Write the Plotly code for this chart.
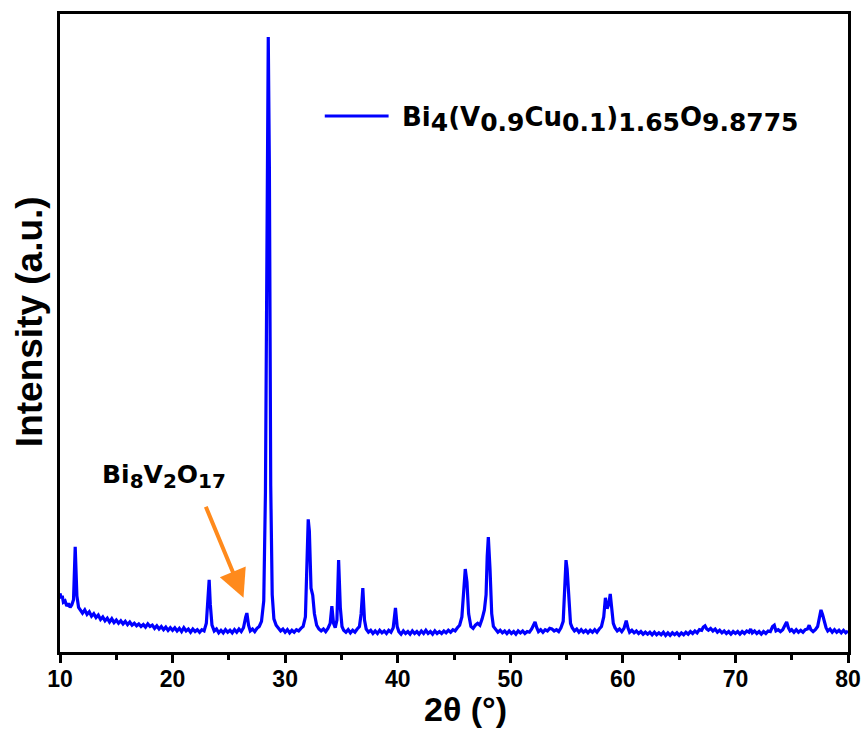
import plotly.graph_objects as go

# ---- data (2theta in degrees, intensity in arbitrary units) ----
two_theta = [
    10.0, 10.1, 10.2, 10.3, 10.45, 10.6, 10.75, 10.9, 11.05, 11.2,
    11.35, 11.5, 11.65, 11.8, 12.0, 12.2, 12.4, 12.6, 12.8, 13.0,
    13.2, 13.4, 13.6, 13.8, 14.0, 14.2, 14.4, 14.6, 14.8, 15.0,
    15.2, 15.4, 15.6, 15.8, 16.0, 16.2, 16.4, 16.6, 16.8, 17.0,
    17.2, 17.4, 17.6, 17.8, 18.0, 18.2, 18.4, 18.6, 18.8, 19.0,
    19.2, 19.4, 19.6, 19.8, 20.0, 20.2, 20.4, 20.6, 20.8, 21.0,
    21.2, 21.4, 21.6, 21.8, 22.0, 22.2, 22.4, 22.6, 22.8, 23.0,
    23.15, 23.25, 23.35, 23.5, 23.7, 23.9, 24.1, 24.3, 24.5, 24.7,
    24.9, 25.1, 25.3, 25.5, 25.7, 25.9, 26.1, 26.3, 26.5, 26.6,
    26.75, 26.9, 27.1, 27.3, 27.5, 27.7, 27.9, 28.1, 28.25, 28.4,
    28.5, 28.6, 28.72, 28.85, 29.0, 29.2, 29.4, 29.6, 29.8, 30.0,
    30.2, 30.4, 30.6, 30.8, 31.0, 31.2, 31.4, 31.6, 31.8, 31.95,
    32.05, 32.15, 32.3, 32.45, 32.6, 32.8, 33.0, 33.2, 33.4, 33.6,
    33.8, 34.0, 34.15, 34.3, 34.45, 34.6, 34.75, 34.9, 35.05, 35.2,
    35.4, 35.6, 35.8, 36.0, 36.2, 36.4, 36.6, 36.75, 36.9, 37.05,
    37.2, 37.4, 37.6, 37.8, 38.0, 38.2, 38.4, 38.6, 38.8, 39.0,
    39.2, 39.4, 39.6, 39.8, 39.95, 40.1, 40.3, 40.5, 40.7, 40.9,
    41.1, 41.3, 41.5, 41.7, 41.9, 42.1, 42.3, 42.5, 42.7, 42.9,
    43.1, 43.3, 43.5, 43.7, 43.9, 44.1, 44.3, 44.5, 44.7, 44.9,
    45.1, 45.3, 45.5, 45.7, 45.85, 46.0, 46.15, 46.3, 46.5, 46.7,
    46.9, 47.1, 47.3, 47.5, 47.7, 47.85, 47.95, 48.05, 48.2, 48.35,
    48.5, 48.7, 48.9, 49.1, 49.3, 49.5, 49.7, 49.9, 50.1, 50.3,
    50.5, 50.7, 50.9, 51.1, 51.3, 51.5, 51.7, 51.9, 52.05, 52.2,
    52.35, 52.5, 52.7, 52.9, 53.1, 53.3, 53.5, 53.7, 53.9, 54.1,
    54.3, 54.5, 54.7, 54.85, 54.95, 55.05, 55.2, 55.35, 55.5, 55.7,
    55.9, 56.1, 56.3, 56.5, 56.7, 56.9, 57.1, 57.3, 57.5, 57.7,
    57.9, 58.1, 58.3, 58.45, 58.6, 58.75, 58.88, 59.0, 59.15, 59.3,
    59.5, 59.7, 59.9, 60.1, 60.3, 60.45, 60.6, 60.8, 61.0, 61.2,
    61.4, 61.6, 61.8, 62.0, 62.2, 62.4, 62.6, 62.8, 63.0, 63.2,
    63.4, 63.6, 63.8, 64.0, 64.2, 64.4, 64.6, 64.8, 65.0, 65.2,
    65.4, 65.6, 65.8, 66.0, 66.2, 66.4, 66.6, 66.8, 67.0, 67.15,
    67.3, 67.45, 67.6, 67.8, 68.0, 68.2, 68.4, 68.6, 68.8, 69.0,
    69.2, 69.4, 69.6, 69.8, 70.0, 70.2, 70.4, 70.6, 70.8, 71.0,
    71.2, 71.35, 71.5, 71.7, 71.9, 72.1, 72.3, 72.5, 72.7, 72.9,
    73.1, 73.3, 73.45, 73.6, 73.8, 74.0, 74.2, 74.4, 74.55, 74.7,
    74.85, 75.0, 75.2, 75.4, 75.6, 75.8, 76.0, 76.2, 76.4, 76.55,
    76.7, 76.9, 77.1, 77.3, 77.45, 77.6, 77.75, 77.9, 78.05, 78.2,
    78.4, 78.6, 78.8, 79.0, 79.2, 79.4, 79.6, 79.8, 80.0,
]
intensity = [
    92, 84, 88, 78, 80, 72, 76, 70, 74, 82,
    165, 88, 70, 66, 61, 66, 59, 63, 56, 60,
    54, 58, 51, 55, 49, 53, 47, 52, 46, 50,
    45, 49, 44, 48, 43, 47, 42, 45, 41, 44,
    40, 43, 39, 44, 40, 42, 37, 41, 36, 40,
    35, 39, 34, 38, 34, 38, 33, 37, 32, 38,
    33, 36, 31, 36, 32, 35, 31, 35, 33, 45,
    80, 113, 75, 42, 33, 36, 30, 34, 30, 35,
    31, 34, 30, 35, 31, 36, 32, 38, 55, 61,
    42, 33, 36, 32, 37, 40, 48, 80, 250, 760,
    964, 760, 260, 90, 52, 42, 37, 33, 36, 31,
    35, 30, 34, 31, 35, 33, 37, 40, 55, 130,
    208, 190, 100, 89, 60, 42, 36, 33, 36, 32,
    37, 45, 72, 45, 38, 50, 144, 70, 40, 34,
    31, 35, 30, 34, 31, 36, 40, 60, 100, 50,
    36, 31, 34, 29, 33, 29, 34, 30, 33, 29,
    34, 31, 38, 69, 40, 32, 28, 33, 29, 32,
    28, 33, 29, 32, 28, 33, 29, 34, 29, 32,
    28, 33, 29, 32, 29, 33, 30, 34, 31, 35,
    33, 38, 42, 55, 100, 130, 110, 60, 40, 37,
    42, 45, 42, 52, 66, 90, 150, 180, 130, 60,
    40, 35, 31, 34, 30, 33, 29, 33, 29, 32,
    28, 33, 30, 33, 29, 32, 31, 36, 42, 47,
    38, 32, 35, 31, 35, 33, 37, 36, 33, 35,
    32, 38, 48, 100, 144, 130, 80, 45, 38, 33,
    36, 31, 35, 31, 34, 30, 34, 31, 35, 31,
    36, 40, 55, 85, 68, 75, 91, 70, 45, 38,
    33, 36, 32, 37, 49, 38, 31, 34, 30, 33,
    29, 32, 28, 31, 28, 31, 27, 31, 27, 30,
    27, 31, 26, 30, 26, 30, 27, 30, 26, 30,
    27, 31, 28, 32, 29, 33, 30, 35, 34, 39,
    41, 36, 34, 37, 33, 36, 31, 34, 30, 33,
    29, 32, 28, 32, 29, 32, 28, 32, 29, 33,
    31, 36, 30, 33, 29, 32, 28, 32, 29, 33,
    32, 40, 42, 33, 35, 32, 35, 42, 47, 38,
    33, 35, 31, 35, 31, 34, 31, 35, 36, 42,
    35, 32, 35, 40, 55, 66, 58, 45, 38, 33,
    36, 31, 35, 31, 34, 30, 34, 30, 33,
]
x_ticks = [10, 20, 30, 40, 50, 60, 70, 80]
x_title = "2θ (°)"
y_title = "Intensity (a.u.)"
impurity_peak = (26.3, 85)
impurity_arrow_tail = (22.9, 230)
impurity_label_pos = (19.24, 275)

BLUE = "#0000FF"
ORANGE = "#FF8A1C"
FONT = "Liberation Sans, Arial, sans-serif"
WIDEFONT = "DejaVu Sans, Liberation Sans, sans-serif"


def sub(s, size):
    return f"<sub><span style='font-size:{size}px'>{s}</span></sub>"


series_name = ("Bi" + sub("4", 25) + "(V" + sub("0.9", 25) + "Cu" + sub("0.1", 25) + ")"
               + sub("1.65", 25) + "O" + sub("9.8775", 25))
impurity_label = "Bi" + sub("8", 20) + "V" + sub("2", 20) + "O" + sub("17", 20)

fig = go.Figure()
fig.add_trace(go.Scatter(
    x=two_theta, y=intensity, mode="lines", name=series_name,
    line=dict(color=BLUE, width=3.2), showlegend=False,
))

fig.update_layout(
    width=865, height=734,
    margin=dict(l=60, r=17, t=14, b=82),
    paper_bgcolor="white", plot_bgcolor="white",
    xaxis=dict(
        range=[10, 80], tickvals=x_ticks, ticktext=[str(v) for v in x_ticks],
        showgrid=False, zeroline=False, automargin=False,
        showline=True, linecolor="black", linewidth=3, mirror=True,
        ticks="outside", ticklen=8, tickwidth=3, tickcolor="black",
        ticklabelstandoff=-4,
        minor=dict(dtick=5, ticks="outside", ticklen=5, tickwidth=2.5, tickcolor="black"),
        tickfont=dict(family=FONT, size=23, color="black", weight="bold"),
    ),
    yaxis=dict(
        range=[0, 1000], showticklabels=False, ticks="",
        showgrid=False, zeroline=False, automargin=False,
        showline=True, linecolor="black", linewidth=3, mirror=True,
    ),
)

# axis titles
fig.add_annotation(xref="paper", yref="paper", x=0.514, y=0, yshift=-57,
                   xanchor="center", yanchor="middle", showarrow=False, text=x_title,
                   font=dict(family=FONT, size=34, color="black", weight="bold"))
fig.add_annotation(xref="paper", yref="paper", x=0, y=0.517, xshift=-31,
                   xanchor="center", yanchor="middle", showarrow=False, text=y_title,
                   textangle=-90,
                   font=dict(family=FONT, size=37, color="black", weight="bold"))

# legend drawn as a line sample + label
fig.add_shape(type="line", xref="paper", yref="paper",
              x0=0.336, x1=0.417, y0=0.840, y1=0.840,
              line=dict(color=BLUE, width=3))
fig.add_annotation(xref="paper", yref="paper", x=0.432, y=0.834,
                   xanchor="left", yanchor="middle", showarrow=False,
                   text=series_name,
                   font=dict(family=WIDEFONT, size=26, color="black", weight="bold"))

# impurity label + arrow
fig.add_annotation(x=impurity_label_pos[0], y=impurity_label_pos[1], text=impurity_label,
                   showarrow=False,
                   font=dict(family=WIDEFONT, size=25, color="black", weight="bold"))
fig.add_annotation(x=impurity_peak[0], y=impurity_peak[1],
                   ax=impurity_arrow_tail[0], ay=impurity_arrow_tail[1],
                   axref="x", ayref="y", xref="x", yref="y", text="",
                   showarrow=True, arrowhead=2, arrowsize=1.4, arrowwidth=4,
                   arrowcolor=ORANGE)

fig.write_html("out.html")
